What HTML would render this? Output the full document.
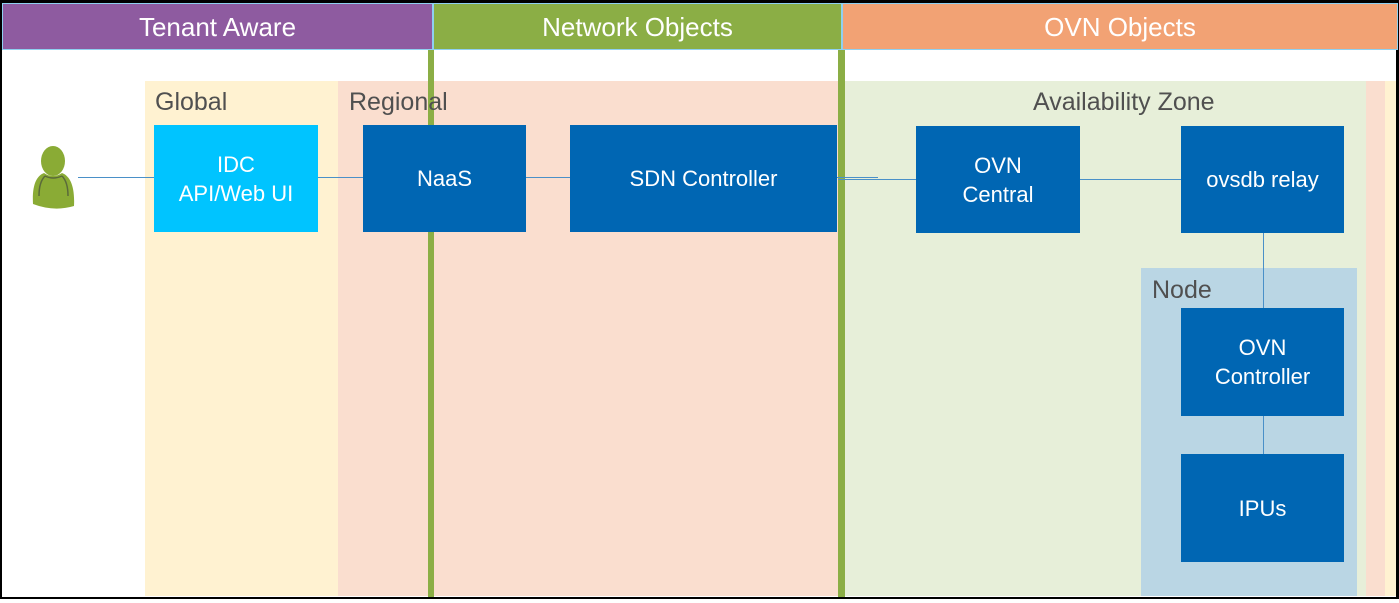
<!DOCTYPE html>
<html><head><meta charset="utf-8"><style>
*{margin:0;padding:0;box-sizing:border-box}
body{width:1399px;height:603px;background:#fff;position:relative;overflow:hidden;font-family:"Liberation Sans","DejaVu Sans",sans-serif}
div{position:absolute}
.hdr{top:3px;height:47px;color:#fff;font-size:26px;text-align:center;line-height:46px;border:1px solid #8fd0f0}
.bx{background:#0066b3;color:#fff;font-size:22px;text-align:center;display:flex;align-items:center;justify-content:center;line-height:29px}
.lbl{color:#505050;font-size:25px}
.ln{background:#4a90c8}
</style></head><body>
<div style="left:0;top:0;width:1399px;height:599px;border:2px solid #000;border-top-width:3px;border-right-width:3px"></div>
<div style="left:145px;top:81px;width:193px;height:515px;background:#fff2d1"></div>
<div style="left:338px;top:81px;width:1048px;height:515px;background:#fadecf"></div>
<div style="left:1385px;top:81px;width:11px;height:515px;background:#fff2d1"></div>
<div style="left:845px;top:81px;width:521px;height:515px;background:#e7efd9"></div>
<div style="left:1141px;top:268px;width:216px;height:328px;background:#bad6e4"></div>
<div class="hdr" style="left:2px;width:431px;background:#8e5ba0">Tenant Aware</div>
<div class="hdr" style="left:433px;width:409px;background:#8bae45">Network Objects</div>
<div class="hdr" style="left:842px;width:556px;background:#f2a274">OVN Objects</div>
<div style="left:428px;top:50px;width:6px;height:547px;background:#8bae45"></div>
<div style="left:838px;top:50px;width:7px;height:547px;background:#8bae45"></div>
<div class="lbl" style="left:155px;top:88px">Global</div>
<div class="lbl" style="left:349px;top:88px">Regional</div>
<div class="lbl" style="left:1033px;top:88px">Availability Zone</div>
<div class="lbl" style="left:1152px;top:276px">Node</div>
<div class="ln" style="left:78px;top:177px;width:800px;height:1px"></div>
<div class="ln" style="left:838px;top:179px;width:400px;height:1px"></div>
<div class="ln" style="left:1263px;top:232px;width:1px;height:230px"></div>
<div class="bx" style="left:154px;top:125px;width:164px;height:107px;background:#00c4ff">IDC<br>API/Web UI</div>
<div class="bx" style="left:363px;top:125px;width:163px;height:107px">NaaS</div>
<div class="bx" style="left:570px;top:125px;width:267px;height:107px">SDN Controller</div>
<div class="bx" style="left:916px;top:126px;width:164px;height:107px">OVN<br>Central</div>
<div class="bx" style="left:1181px;top:126px;width:163px;height:107px">ovsdb relay</div>
<div class="bx" style="left:1181px;top:308px;width:163px;height:108px">OVN<br>Controller</div>
<div class="bx" style="left:1181px;top:454px;width:163px;height:108px">IPUs</div>
<svg style="position:absolute;left:30px;top:144px" width="48" height="66">
<ellipse cx="23" cy="17" rx="12" ry="15" fill="#8aab35"/>
<path d="M3 60 C2 42 6 32 14 29 Q23 35 32 29 C40 32 45 42 44 62 Q24 68 3 60Z" fill="#8aab35"/>
<path d="M9 52 C9 42 11 36 15 32 M38 52 C38 42 36 36 32 32 M15 32 Q23 36 32 32" stroke="#5a6a3a" stroke-width="1.5" fill="none"/>
</svg>
</body></html>
